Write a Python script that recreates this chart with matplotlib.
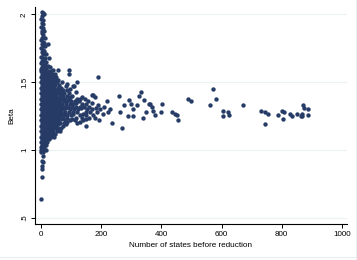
import matplotlib
matplotlib.use("Agg")
import matplotlib.pyplot as plt
from matplotlib.lines import Line2D

# upper part of the column near zero states
column_pts = [(2, 2.02), (6, 2.01), (4, 1.99), (9, 2.0), (1, 1.97), (5, 1.96), (3, 1.94), (8, 1.93),
              (1, 1.91), (6, 1.90), (3, 1.88), (10, 1.88), (2, 1.86), (7, 1.85), (4, 1.83), (12, 1.83),
              (1, 1.81), (6, 1.80), (10, 1.79), (3, 1.78), (24, 1.78), (8, 1.77), (14, 1.77), (1, 1.75),
              (5, 1.74), (11, 1.73), (3, 1.72), (8, 1.71), (16, 1.71), (1, 1.69), (6, 1.68), (12, 1.68),
              (28, 1.68), (3, 1.66), (9, 1.66), (18, 1.65), (1, 1.64), (6, 1.63), (14, 1.63), (22, 1.62),
              (3, 1.61), (10, 1.61), (30, 1.61), (1, 1.60), (18, 1.60), (6, 1.59), (40, 1.59), (55, 1.59),
              (93, 1.59), (93, 1.56)]

# dense core, listed by beta level: states at that level
core_rows = {
    1.58: [0, 4, 8, 13, 18, 24, 32],
    1.56: [2, 6, 11, 16, 22, 28, 36, 45],
    1.54: [0, 4, 9, 14, 20, 26, 33, 40, 50, 188],
    1.52: [2, 7, 12, 17, 23, 30, 38, 47, 58],
    1.50: [0, 5, 10, 15, 21, 27, 34, 42, 52, 71, 121],
    1.49: [85],
    1.48: [3, 8, 13, 19, 25, 31, 39, 48, 60],
    1.47: [82, 107, 110],
    1.46: [1, 6, 11, 16, 22, 29, 36, 44, 55, 66],
    1.45: [58, 95],
    1.44: [3, 8, 14, 20, 26, 33, 41, 50, 61, 72, 88],
    1.43: [70, 115],
    1.42: [0, 5, 11, 17, 23, 30, 38, 46, 56, 67, 78, 92],
    1.41: [168, 174],
    1.40: [2, 8, 14, 20, 27, 34, 42, 51, 62, 74, 86, 104, 260, 325],
    1.39: [62, 98, 135, 178],
    1.38: [0, 5, 11, 17, 24, 31, 39, 48, 58, 69, 80, 92, 118, 130, 145],
    1.37: [293, 343],
    1.36: [3, 8, 14, 21, 28, 36, 44, 54, 64, 75, 88, 100, 112, 125, 156, 218],
    1.35: [57, 116, 170],
    1.34: [0, 6, 12, 18, 25, 33, 41, 50, 60, 71, 82, 95, 108, 135, 150, 300, 359],
    1.33: [190, 275, 319],
    1.32: [3, 9, 15, 22, 30, 38, 47, 56, 66, 77, 90, 102, 115, 128, 142, 160, 210],
    1.31: [83, 132, 182],
    1.30: [0, 6, 12, 19, 26, 34, 43, 52, 62, 73, 96, 110, 124, 152, 170, 195, 229, 305],
    1.28: [3, 9, 16, 23, 31, 40, 49, 58, 68, 80, 92, 105, 118, 148, 164, 185, 224, 264, 348],
    1.27: [70, 108, 140, 205],
    1.26: [0, 6, 13, 20, 28, 36, 45, 54, 64, 76, 88, 100, 130, 150, 172],
    1.25: [289, 307],
    1.24: [3, 9, 16, 24, 32, 41, 50, 60, 72, 85, 115, 135, 160, 180, 339],
    1.23: [67, 104, 150],
    1.22: [0, 6, 13, 21, 29, 38, 47, 57, 80, 95, 112, 140, 194],
    1.21: [88, 128],
    1.20: [3, 10, 17, 25, 34, 43, 53, 64, 76, 120, 236],
    1.19: [55, 82],
    1.18: [0, 6, 14, 22, 30, 39, 49, 72, 150],
    1.16: [3, 10, 18, 26, 35, 45, 56, 68, 268],
    1.14: [0, 6, 14, 22, 31, 41, 52, 63],
    1.12: [3, 10, 18, 27, 37, 48],
    1.10: [0, 6, 14, 23, 33, 44],
    1.08: [3, 10, 18, 28],
    1.06: [0, 6, 13, 21],
    1.04: [2, 8, 15],
    1.02: [0, 5, 11],
    1.00: [0, 8, 15],
}

# sparse tail with many states
tail_pts = [(362, 1.34), (371, 1.29), (380, 1.26), (403, 1.34), (398, 1.28), (334, 1.43),
            (369, 1.32), (437, 1.28), (445, 1.27), (451, 1.26), (455, 1.22), (489, 1.38),
            (497, 1.36), (562, 1.33), (571, 1.45), (581, 1.38), (605, 1.29), (605, 1.25),
            (622, 1.28), (626, 1.26), (671, 1.33), (730, 1.29), (745, 1.28), (753, 1.27),
            (745, 1.19), (787, 1.26), (800, 1.29), (808, 1.28), (805, 1.23), (826, 1.27),
            (835, 1.25), (850, 1.27), (864, 1.25), (869, 1.25), (871, 1.33), (873, 1.31),
            (886, 1.30), (889, 1.26), (869, 1.27)]

# low beta values near zero states
low_pts = [(0, 0.99), (8, 0.99), (8, 0.96), (4, 0.92), (8, 0.91), (2, 0.88), (3, 0.86),
           (2, 0.80), (0, 0.64)]

xticks = [0, 200, 400, 600, 800, 1000]
yticks = [0.5, 1, 1.5, 2]
ytick_labels = [".5", "1", "1.5", "2"]

states = [p[0] for p in column_pts]
beta = [p[1] for p in column_pts]
for b, xs in core_rows.items():
    states += xs
    beta += [b] * len(xs)
states += [p[0] for p in tail_pts + low_pts]
beta += [p[1] for p in tail_pts + low_pts]

plt.rcParams['font.family'] = ['Liberation Sans', 'DejaVu Sans']

fig = plt.figure(figsize=(3.57, 2.6), dpi=100)
ax = fig.add_axes([0.098, 0.138, 0.874, 0.835])

for y in yticks:
    ax.axhline(y, color='#eaf2f3', lw=0.8, zorder=0)

ax.scatter(states, beta, s=10, color='#263c66', linewidths=0, zorder=3)

ax.set_xlim(-20, 1017)
ax.set_ylim(0.455, 2.055)
ax.set_xticks(xticks)
ax.set_yticks(yticks)
ax.set_yticklabels(ytick_labels, rotation=90, va='center')
ax.tick_params(labelsize=5.8, length=3, width=0.7, pad=2, color='black')
ax.set_xlabel("Number of states before reduction", fontsize=5.9, labelpad=3)
ax.set_ylabel("Beta", fontsize=5.9, labelpad=4)

for side in ['top', 'right']:
    ax.spines[side].set_visible(False)
for side in ['left', 'bottom']:
    ax.spines[side].set_linewidth(0.8)

# faint outer frame on right and bottom
fig.add_artist(Line2D([0.997, 0.997], [0.0, 1.0], transform=fig.transFigure, color='#e6eef0', lw=0.8))
fig.add_artist(Line2D([0.0, 1.0], [0.01, 0.01], transform=fig.transFigure, color='#e6eef0', lw=0.8))

fig.savefig("out.png", dpi=100)
